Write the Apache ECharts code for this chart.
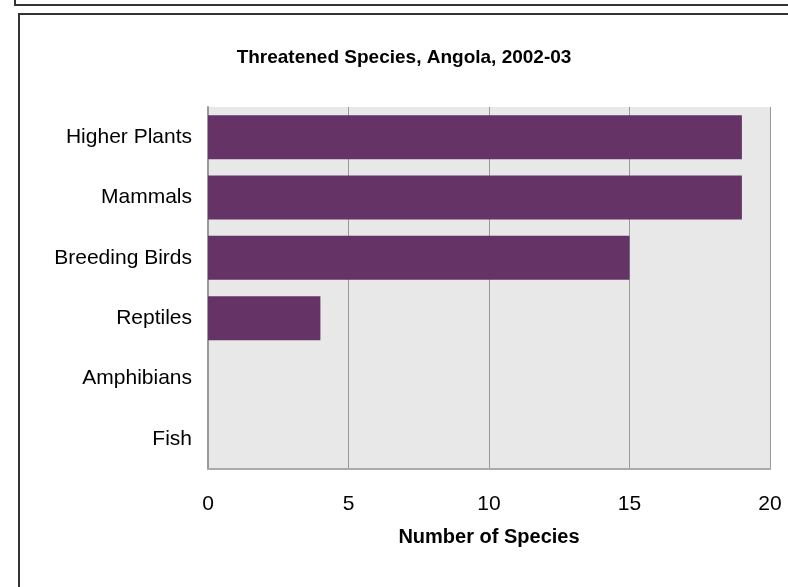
<!DOCTYPE html>
<html>
<head>
<meta charset="utf-8">
<script src="https://cdn.jsdelivr.net/npm/echarts@6/dist/echarts.min.js"></script>
<style>html,body{margin:0;padding:0;background:#fff}#c{width:788px;height:587px}</style>
</head>
<body>
<div id="c"></div>
<script>
var categories = ['Higher Plants', 'Mammals', 'Breeding Birds', 'Reptiles', 'Amphibians', 'Fish'];
var values = [19, 19, 15, 4, 0, 0];
var xTicks = [0, 5, 10, 15, 20];

var chart = echarts.init(document.getElementById('c'));
chart.setOption({
  animation: false,
  backgroundColor: '#ffffff',
  textStyle: { fontFamily: 'Liberation Sans, Arial, sans-serif' },
  title: {
    text: 'Threatened Species, Angola, 2002-03',
    left: 399, top: 43, textAlign: 'center',
    textStyle: { fontSize: 19, fontWeight: 'bold', color: '#000', fontFamily: 'Liberation Sans, Arial, sans-serif' }
  },
  graphic: [
    { type: 'rect', shape: { x: 15, y: -10, width: 800, height: 15 }, style: { fill: 'none', stroke: '#333', lineWidth: 2 } },
    { type: 'rect', shape: { x: 19, y: 14, width: 800, height: 600 }, style: { fill: 'none', stroke: '#333', lineWidth: 2 } }
  ],
  grid: { left: 208, right: 18, top: 107, bottom: 118, show: true, backgroundColor: '#e8e8e8', borderWidth: 0 },
  xAxis: {
    type: 'value', min: xTicks[0], max: xTicks[xTicks.length - 1], interval: 5,
    name: 'Number of Species', nameLocation: 'middle', nameGap: 58,
    nameTextStyle: { fontSize: 20, fontWeight: 'bold', color: '#000' },
    axisLine: { show: true, lineStyle: { color: '#aaa', width: 2 } },
    axisTick: { show: false },
    axisLabel: { fontSize: 21, color: '#000', margin: 25 },
    splitLine: { show: true, lineStyle: { color: '#999', width: 1 } }
  },
  yAxis: {
    type: 'category', data: categories, inverse: true,
    axisLine: { show: true, lineStyle: { color: '#999', width: 2 } },
    axisTick: { show: false },
    axisLabel: { fontSize: 21, color: '#000', margin: 16 }
  },
  series: [{
    type: 'bar', data: values, barWidth: '73%',
    itemStyle: { color: '#663366' }
  }]
});
</script>
</body>
</html>
